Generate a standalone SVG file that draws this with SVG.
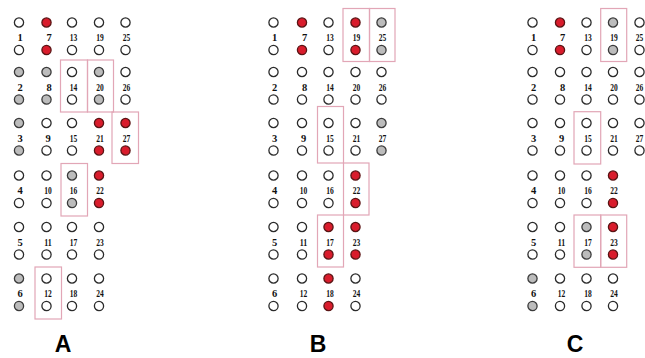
<svg xmlns="http://www.w3.org/2000/svg" width="645" height="358" viewBox="0 0 645 358">
<style>
.w{fill:#ffffff;stroke:#2a2a2a;stroke-width:1.3}
.g{fill:#bcbcbc;stroke:#3a3a3a;stroke-width:1.3}
.r{fill:#d91c2c;stroke:#5a1414;stroke-width:1.3}
.lb{font-family:"Liberation Serif","Times New Roman",serif;font-weight:bold;font-size:10.5px;fill:#111;stroke:none;text-anchor:middle}
.box{fill:none;stroke:#e2a6b6;stroke-width:1.2}
.pl{font-family:"Liberation Sans",Arial,sans-serif;font-weight:bold;font-size:23px;fill:#000;text-anchor:middle}
</style>
<rect width="645" height="358" fill="#ffffff"/>
<defs>
<g id="pair"><circle cx="0" cy="0" r="4.6"/><circle cx="0" cy="27.5" r="4.6"/></g>
</defs>
<!-- Panel A -->
<g id="panelA">
<g id="A1" class="w"><use href="#pair" x="19" y="22.5"/><text class="lb" x="20" y="41">1</text></g>
<g id="A2" class="g"><use href="#pair" x="19" y="72"/><text class="lb" x="20" y="90.5">2</text></g>
<g id="A3" class="g"><use href="#pair" x="19" y="123"/><text class="lb" x="20" y="141.5">3</text></g>
<g id="A4" class="w"><use href="#pair" x="19" y="175.5"/><text class="lb" x="20" y="194">4</text></g>
<g id="A5" class="w"><use href="#pair" x="19" y="227"/><text class="lb" x="20" y="245.5">5</text></g>
<g id="A6" class="g"><use href="#pair" x="19" y="278.5"/><text class="lb" x="20" y="297">6</text></g>
<g id="A7" class="r"><use href="#pair" x="46.5" y="22.5"/><text class="lb" x="49" y="41">7</text></g>
<g id="A8" class="g"><use href="#pair" x="46.5" y="72"/><text class="lb" x="49" y="90.5">8</text></g>
<g id="A9" class="w"><use href="#pair" x="46.5" y="123"/><text class="lb" x="48" y="141.5">9</text></g>
<g id="A10" class="w"><use href="#pair" x="46.5" y="175.5"/><text class="lb" x="48" y="194" textLength="7.5" lengthAdjust="spacingAndGlyphs">10</text></g>
<g id="A11" class="w"><use href="#pair" x="46.5" y="227"/><text class="lb" x="48" y="245.5" textLength="7.5" lengthAdjust="spacingAndGlyphs">11</text></g>
<g id="A12" class="w"><use href="#pair" x="46.5" y="278.5"/><text class="lb" x="48" y="297" textLength="7.5" lengthAdjust="spacingAndGlyphs">12</text></g>
<g id="A13" class="w"><use href="#pair" x="72" y="22.5"/><text class="lb" x="73.5" y="41" textLength="7.5" lengthAdjust="spacingAndGlyphs">13</text></g>
<g id="A14" class="w"><use href="#pair" x="72" y="72"/><text class="lb" x="73.5" y="90.5" textLength="7.5" lengthAdjust="spacingAndGlyphs">14</text></g>
<g id="A15" class="w"><use href="#pair" x="72" y="123"/><text class="lb" x="73.5" y="141.5" textLength="7.5" lengthAdjust="spacingAndGlyphs">15</text></g>
<g id="A16" class="g"><use href="#pair" x="72" y="175.5"/><text class="lb" x="73.5" y="194" textLength="7.5" lengthAdjust="spacingAndGlyphs">16</text></g>
<g id="A17" class="w"><use href="#pair" x="72" y="227"/><text class="lb" x="73.5" y="245.5" textLength="7.5" lengthAdjust="spacingAndGlyphs">17</text></g>
<g id="A18" class="w"><use href="#pair" x="72" y="278.5"/><text class="lb" x="73.5" y="297" textLength="7.5" lengthAdjust="spacingAndGlyphs">18</text></g>
<g id="A19" class="w"><use href="#pair" x="99" y="22.5"/><text class="lb" x="100" y="41" textLength="7.5" lengthAdjust="spacingAndGlyphs">19</text></g>
<g id="A20" class="g"><use href="#pair" x="99" y="72"/><text class="lb" x="100" y="90.5" textLength="7.5" lengthAdjust="spacingAndGlyphs">20</text></g>
<g id="A21" class="r"><use href="#pair" x="99" y="123"/><text class="lb" x="100" y="141.5" textLength="7.5" lengthAdjust="spacingAndGlyphs">21</text></g>
<g id="A22" class="r"><use href="#pair" x="99" y="175.5"/><text class="lb" x="100" y="194" textLength="7.5" lengthAdjust="spacingAndGlyphs">22</text></g>
<g id="A23" class="w"><use href="#pair" x="99" y="227"/><text class="lb" x="100" y="245.5" textLength="7.5" lengthAdjust="spacingAndGlyphs">23</text></g>
<g id="A24" class="w"><use href="#pair" x="99" y="278.5"/><text class="lb" x="100" y="297" textLength="7.5" lengthAdjust="spacingAndGlyphs">24</text></g>
<g id="A25" class="w"><use href="#pair" x="125.5" y="22.5"/><text class="lb" x="126.5" y="41" textLength="7.5" lengthAdjust="spacingAndGlyphs">25</text></g>
<g id="A26" class="w"><use href="#pair" x="125.5" y="72"/><text class="lb" x="126.5" y="90.5" textLength="7.5" lengthAdjust="spacingAndGlyphs">26</text></g>
<g id="A27" class="r"><use href="#pair" x="125.5" y="123"/><text class="lb" x="126.5" y="141.5" textLength="7.5" lengthAdjust="spacingAndGlyphs">27</text></g>
</g>
<!-- Panel B -->
<g id="panelB">
<g id="B1" class="w"><use href="#pair" x="273.5" y="22.5"/><text class="lb" x="274.5" y="41">1</text></g>
<g id="B2" class="w"><use href="#pair" x="273.5" y="72"/><text class="lb" x="274.5" y="90.5">2</text></g>
<g id="B3" class="w"><use href="#pair" x="273.5" y="123"/><text class="lb" x="274.5" y="141.5">3</text></g>
<g id="B4" class="w"><use href="#pair" x="273.5" y="175.5"/><text class="lb" x="274.5" y="194">4</text></g>
<g id="B5" class="w"><use href="#pair" x="273.5" y="227"/><text class="lb" x="274.5" y="245.5">5</text></g>
<g id="B6" class="w"><use href="#pair" x="273.5" y="278.5"/><text class="lb" x="274.5" y="297">6</text></g>
<g id="B7" class="r"><use href="#pair" x="302" y="22.5"/><text class="lb" x="304.5" y="41">7</text></g>
<g id="B8" class="w"><use href="#pair" x="302" y="72"/><text class="lb" x="304.5" y="90.5">8</text></g>
<g id="B9" class="w"><use href="#pair" x="302" y="123"/><text class="lb" x="303.5" y="141.5">9</text></g>
<g id="B10" class="w"><use href="#pair" x="302" y="175.5"/><text class="lb" x="303.5" y="194" textLength="7.5" lengthAdjust="spacingAndGlyphs">10</text></g>
<g id="B11" class="w"><use href="#pair" x="302" y="227"/><text class="lb" x="303.5" y="245.5" textLength="7.5" lengthAdjust="spacingAndGlyphs">11</text></g>
<g id="B12" class="w"><use href="#pair" x="302" y="278.5"/><text class="lb" x="303.5" y="297" textLength="7.5" lengthAdjust="spacingAndGlyphs">12</text></g>
<g id="B13" class="w"><use href="#pair" x="328.5" y="22.5"/><text class="lb" x="330" y="41" textLength="7.5" lengthAdjust="spacingAndGlyphs">13</text></g>
<g id="B14" class="w"><use href="#pair" x="328.5" y="72"/><text class="lb" x="330" y="90.5" textLength="7.5" lengthAdjust="spacingAndGlyphs">14</text></g>
<g id="B15" class="w"><use href="#pair" x="328.5" y="123"/><text class="lb" x="330" y="141.5" textLength="7.5" lengthAdjust="spacingAndGlyphs">15</text></g>
<g id="B16" class="w"><use href="#pair" x="328.5" y="175.5"/><text class="lb" x="330" y="194" textLength="7.5" lengthAdjust="spacingAndGlyphs">16</text></g>
<g id="B17" class="r"><use href="#pair" x="328.5" y="227"/><text class="lb" x="330" y="245.5" textLength="7.5" lengthAdjust="spacingAndGlyphs">17</text></g>
<g id="B18" class="r"><use href="#pair" x="328.5" y="278.5"/><text class="lb" x="330" y="297" textLength="7.5" lengthAdjust="spacingAndGlyphs">18</text></g>
<g id="B19" class="r"><use href="#pair" x="355.5" y="22.5"/><text class="lb" x="356.5" y="41" textLength="7.5" lengthAdjust="spacingAndGlyphs">19</text></g>
<g id="B20" class="w"><use href="#pair" x="355.5" y="72"/><text class="lb" x="356.5" y="90.5" textLength="7.5" lengthAdjust="spacingAndGlyphs">20</text></g>
<g id="B21" class="w"><use href="#pair" x="355.5" y="123"/><text class="lb" x="356.5" y="141.5" textLength="7.5" lengthAdjust="spacingAndGlyphs">21</text></g>
<g id="B22" class="r"><use href="#pair" x="355.5" y="175.5"/><text class="lb" x="356.5" y="194" textLength="7.5" lengthAdjust="spacingAndGlyphs">22</text></g>
<g id="B23" class="r"><use href="#pair" x="355.5" y="227"/><text class="lb" x="356.5" y="245.5" textLength="7.5" lengthAdjust="spacingAndGlyphs">23</text></g>
<g id="B24" class="w"><use href="#pair" x="355.5" y="278.5"/><text class="lb" x="356.5" y="297" textLength="7.5" lengthAdjust="spacingAndGlyphs">24</text></g>
<g id="B25" class="g"><use href="#pair" x="381.5" y="22.5"/><text class="lb" x="382.5" y="41" textLength="7.5" lengthAdjust="spacingAndGlyphs">25</text></g>
<g id="B26" class="w"><use href="#pair" x="381.5" y="72"/><text class="lb" x="382.5" y="90.5" textLength="7.5" lengthAdjust="spacingAndGlyphs">26</text></g>
<g id="B27" class="g"><use href="#pair" x="381.5" y="123"/><text class="lb" x="382.5" y="141.5" textLength="7.5" lengthAdjust="spacingAndGlyphs">27</text></g>
</g>
<!-- Panel C -->
<g id="panelC">
<g id="C1" class="w"><use href="#pair" x="532.5" y="22.5"/><text class="lb" x="533.5" y="41">1</text></g>
<g id="C2" class="w"><use href="#pair" x="532.5" y="72"/><text class="lb" x="533.5" y="90.5">2</text></g>
<g id="C3" class="w"><use href="#pair" x="532.5" y="123"/><text class="lb" x="533.5" y="141.5">3</text></g>
<g id="C4" class="w"><use href="#pair" x="532.5" y="175.5"/><text class="lb" x="533.5" y="194">4</text></g>
<g id="C5" class="w"><use href="#pair" x="532.5" y="227"/><text class="lb" x="533.5" y="245.5">5</text></g>
<g id="C6" class="g"><use href="#pair" x="532.5" y="278.5"/><text class="lb" x="533.5" y="297">6</text></g>
<g id="C7" class="r"><use href="#pair" x="560" y="22.5"/><text class="lb" x="562.5" y="41">7</text></g>
<g id="C8" class="w"><use href="#pair" x="560" y="72"/><text class="lb" x="562.5" y="90.5">8</text></g>
<g id="C9" class="w"><use href="#pair" x="560" y="123"/><text class="lb" x="561.5" y="141.5">9</text></g>
<g id="C10" class="w"><use href="#pair" x="560" y="175.5"/><text class="lb" x="561.5" y="194" textLength="7.5" lengthAdjust="spacingAndGlyphs">10</text></g>
<g id="C11" class="w"><use href="#pair" x="560" y="227"/><text class="lb" x="561.5" y="245.5" textLength="7.5" lengthAdjust="spacingAndGlyphs">11</text></g>
<g id="C12" class="w"><use href="#pair" x="560" y="278.5"/><text class="lb" x="561.5" y="297" textLength="7.5" lengthAdjust="spacingAndGlyphs">12</text></g>
<g id="C13" class="w"><use href="#pair" x="586.5" y="22.5"/><text class="lb" x="588" y="41" textLength="7.5" lengthAdjust="spacingAndGlyphs">13</text></g>
<g id="C14" class="w"><use href="#pair" x="586.5" y="72"/><text class="lb" x="588" y="90.5" textLength="7.5" lengthAdjust="spacingAndGlyphs">14</text></g>
<g id="C15" class="w"><use href="#pair" x="586.5" y="123"/><text class="lb" x="588" y="141.5" textLength="7.5" lengthAdjust="spacingAndGlyphs">15</text></g>
<g id="C16" class="w"><use href="#pair" x="586.5" y="175.5"/><text class="lb" x="588" y="194" textLength="7.5" lengthAdjust="spacingAndGlyphs">16</text></g>
<g id="C17" class="g"><use href="#pair" x="586.5" y="227"/><text class="lb" x="588" y="245.5" textLength="7.5" lengthAdjust="spacingAndGlyphs">17</text></g>
<g id="C18" class="w"><use href="#pair" x="586.5" y="278.5"/><text class="lb" x="588" y="297" textLength="7.5" lengthAdjust="spacingAndGlyphs">18</text></g>
<g id="C19" class="g"><use href="#pair" x="613" y="22.5"/><text class="lb" x="614" y="41" textLength="7.5" lengthAdjust="spacingAndGlyphs">19</text></g>
<g id="C20" class="w"><use href="#pair" x="613" y="72"/><text class="lb" x="614" y="90.5" textLength="7.5" lengthAdjust="spacingAndGlyphs">20</text></g>
<g id="C21" class="w"><use href="#pair" x="613" y="123"/><text class="lb" x="614" y="141.5" textLength="7.5" lengthAdjust="spacingAndGlyphs">21</text></g>
<g id="C22" class="r"><use href="#pair" x="613" y="175.5"/><text class="lb" x="614" y="194" textLength="7.5" lengthAdjust="spacingAndGlyphs">22</text></g>
<g id="C23" class="r"><use href="#pair" x="613" y="227"/><text class="lb" x="614" y="245.5" textLength="7.5" lengthAdjust="spacingAndGlyphs">23</text></g>
<g id="C24" class="w"><use href="#pair" x="613" y="278.5"/><text class="lb" x="614" y="297" textLength="7.5" lengthAdjust="spacingAndGlyphs">24</text></g>
<g id="C25" class="w"><use href="#pair" x="639.5" y="22.5"/><text class="lb" x="639.5" y="41" textLength="7.5" lengthAdjust="spacingAndGlyphs">25</text></g>
<g id="C26" class="w"><use href="#pair" x="639.5" y="72"/><text class="lb" x="639.5" y="90.5" textLength="7.5" lengthAdjust="spacingAndGlyphs">26</text></g>
<g id="C27" class="w"><use href="#pair" x="639.5" y="123"/><text class="lb" x="639.5" y="141.5" textLength="7.5" lengthAdjust="spacingAndGlyphs">27</text></g>
</g>
<!-- Highlight boxes -->
<g id="highlights">
<rect class="box" x="60.5" y="60" width="27" height="52"/>
<rect class="box" x="87.5" y="60" width="26" height="52"/>
<rect class="box" x="112" y="112" width="26.5" height="51.5"/>
<rect class="box" x="61" y="163.5" width="26.5" height="52.5"/>
<rect class="box" x="35" y="267" width="26.5" height="52"/>
<rect class="box" x="343" y="8.5" width="26.5" height="53"/>
<rect class="box" x="369.5" y="8.5" width="25.5" height="53"/>
<rect class="box" x="317.5" y="106.5" width="26" height="56.5"/>
<rect class="box" x="343.5" y="163" width="25.5" height="52"/>
<rect class="box" x="317.5" y="215" width="26" height="52"/>
<rect class="box" x="600.7" y="8.5" width="26" height="53"/>
<rect class="box" x="574" y="111.7" width="26.7" height="52.3"/>
<rect class="box" x="574" y="215" width="26.7" height="52.3"/>
<rect class="box" x="600.7" y="215" width="26" height="52.3"/>
</g>
<!-- Panel letters -->
<text class="pl" x="63" y="352">A</text>
<text class="pl" x="318" y="352">B</text>
<text class="pl" x="575" y="352">C</text>
</svg>
